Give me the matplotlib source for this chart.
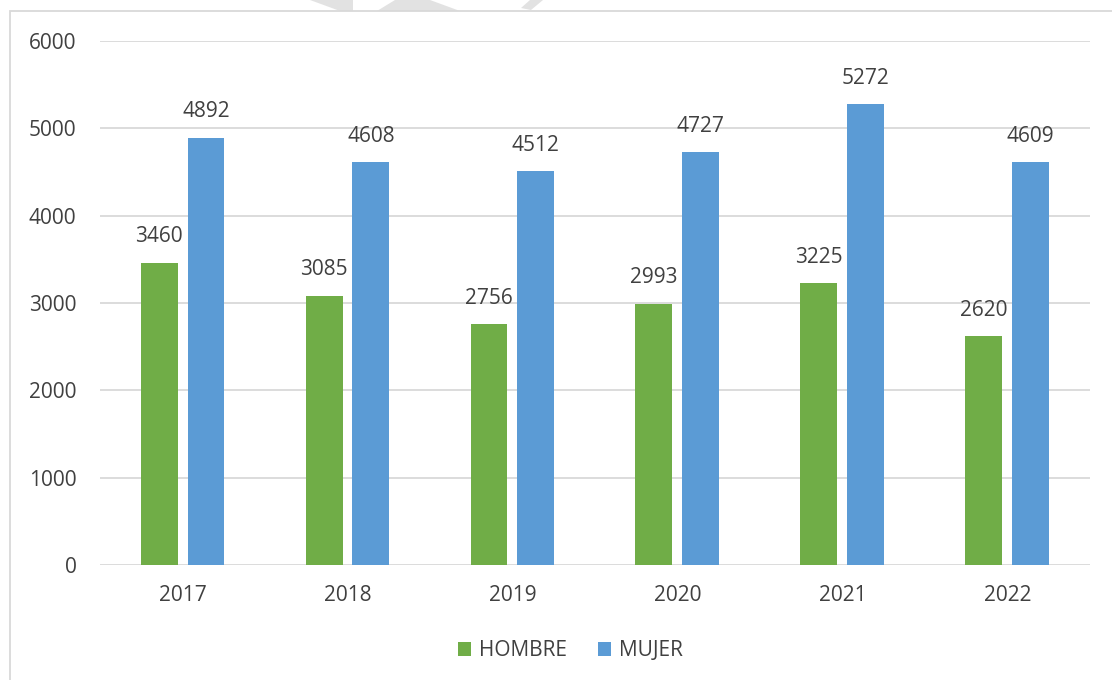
import numpy as np
import matplotlib.pyplot as plt
from matplotlib.patches import Rectangle, Polygon

plt.rcParams['font.family'] = ['Open Sans', 'DejaVu Sans']

years = ["2017", "2018", "2019", "2020", "2021", "2022"]
hombre = [3460, 3085, 2756, 2993, 3225, 2620]
mujer = [4892, 4608, 4512, 4727, 5272, 4609]

green = "#70ad47"
blue = "#5b9bd5"
text_color = "#404040"
W, H = 1112, 680

fig = plt.figure(figsize=(W / 100, H / 100), dpi=100)
ax = fig.add_axes([0.09, 0.169, 0.89, 0.771])

x = np.arange(len(years))
w = 0.224
gap = 0.06
b1 = ax.bar(x - (w + gap) / 2, hombre, w, color=green, label="HOMBRE", zorder=3)
b2 = ax.bar(x + (w + gap) / 2, mujer, w, color=blue, label="MUJER", zorder=3)

for bars, vals in ((b1, hombre), (b2, mujer)):
    for rect, v in zip(bars, vals):
        ax.annotate(str(v), (rect.get_x() + rect.get_width() / 2, v),
                    xytext=(0, 11), textcoords="offset points",
                    ha="center", va="bottom", fontsize=15, color=text_color)

ax.set_xlim(-0.5, len(years) - 0.5)
ax.set_ylim(0, 6000)
ax.set_yticks(range(0, 6001, 1000))
ax.set_xticks(x)
ax.set_xticklabels(years)
ax.yaxis.grid(True, color="#d9d9d9", linewidth=1.3, zorder=0)
ax.set_axisbelow(True)
for s in ax.spines.values():
    s.set_visible(False)
ax.tick_params(length=0, labelsize=15, labelcolor=text_color)
ax.tick_params(axis="y", pad=17)
ax.tick_params(axis="x", pad=14)

ax.legend(loc="center", bbox_to_anchor=(0.475, -0.163), ncol=2,
          frameon=False, fontsize=15, labelcolor=text_color,
          handlelength=0.65, handleheight=0.65, handletextpad=0.35,
          columnspacing=1.5)

# faint watermark shapes at the top edge (pixel coords, y from top)
marks = [
    [(310, 0), (353, 0), (353, 11), (340, 11)],
    [(395, 0), (430, 0), (460, 11), (377, 11)],
    [(530, 0), (543, 0), (531, 10), (521, 8)],
]
for pts in marks:
    fig.patches.append(Polygon([(px / W, 1 - py / H) for px, py in pts],
                               closed=True, transform=fig.transFigure,
                               facecolor="#e2e2e2", edgecolor="none"))

# outer chart frame
fig.patches.append(Rectangle((10 / W, -0.1), 1.2, 1 - 11 / H + 0.1,
                             transform=fig.transFigure, fill=False,
                             edgecolor="#d9d9d9", linewidth=1.3))

fig.savefig("out.png", dpi=100)
